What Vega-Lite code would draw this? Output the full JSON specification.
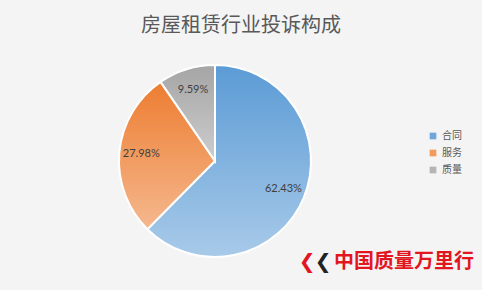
{
  "$schema": "https://vega.github.io/schema/vega-lite/v6.json",
  "width": 482,
  "height": 290,
  "autosize": {"type": "none"},
  "padding": 0,
  "background": "#f4f4f4",
  "config": {
    "view": {"stroke": "#cfcfcf", "strokeWidth": 1, "fill": null},
    "font": "Noto Sans CJK SC"
  },
  "title": {
    "text": "房屋租赁行业投诉构成",
    "fontSize": 20,
    "fontWeight": "normal",
    "color": "#595959",
    "font": "Noto Sans CJK SC",
    "anchor": "middle",
    "offset": -36
  },
  "data": {
    "values": [
      {"类别": "合同", "占比": 0.6243, "序": 1},
      {"类别": "服务", "占比": 0.2798, "序": 2},
      {"类别": "质量", "占比": 0.0959, "序": 3}
    ]
  },
  "layer": [
    {
      "mark": {"type": "arc", "x": 215, "y": 161, "radius": 96},
      "encoding": {
        "theta": {"field": "占比", "type": "quantitative", "stack": true},
        "order": {"field": "序", "type": "quantitative"},
        "color": {
          "field": "类别",
          "type": "nominal",
          "sort": ["合同", "服务", "质量"],
          "scale": {"range": ["#6fa6db", "#f19a5e", "#b4b4b4"]},
          "legend": {
            "title": null,
            "orient": "none",
            "legendX": 428,
            "legendY": 131,
            "symbolType": "square",
            "symbolSize": 45,
            "symbolStrokeWidth": 0,
            "labelFontSize": 10,
            "labelColor": "#595959",
            "labelFont": "Noto Sans CJK SC",
            "rowPadding": 7
          }
        }
      }
    },
    {
      "mark": {"type": "arc", "x": 215, "y": 161, "radius": 96, "stroke": "white", "strokeWidth": 2},
      "encoding": {
        "theta": {"field": "占比", "type": "quantitative", "stack": true},
        "order": {"field": "序", "type": "quantitative"},
        "fill": {
          "condition": [
            {
              "test": "datum['类别'] === '合同'",
              "value": {"gradient": "linear", "x1": 0, "y1": 0, "x2": 0, "y2": 1,
                "stops": [{"offset": 0, "color": "#5b9bd5"}, {"offset": 1, "color": "#a8cae9"}]}
            },
            {
              "test": "datum['类别'] === '服务'",
              "value": {"gradient": "linear", "x1": 0, "y1": 0, "x2": 0, "y2": 1,
                "stops": [{"offset": 0, "color": "#ed7d31"}, {"offset": 1, "color": "#f5b88e"}]}
            }
          ],
          "value": {"gradient": "linear", "x1": 0, "y1": 0, "x2": 0, "y2": 1,
            "stops": [{"offset": 0, "color": "#a5a5a5"}, {"offset": 1, "color": "#cdcdcd"}]}
        }
      }
    },
    {
      "mark": {"type": "text", "x": 215, "y": 161, "radius": 74, "fontSize": 11, "font": "Lato", "color": "#404040"},
      "encoding": {
        "theta": {"field": "占比", "type": "quantitative", "stack": true},
        "order": {"field": "序", "type": "quantitative"},
        "text": {"field": "占比", "type": "quantitative", "format": ".2%"}
      }
    },
    {
      "data": {"values": [{"标识": "❮", "色": "#e3161f", "dx": -8}, {"标识": "❮", "色": "#222222", "dx": 8}]},
      "mark": {"type": "text", "x": 315, "y": 262, "fontSize": 20, "fontWeight": "bold", "font": "DejaVu Sans"},
      "encoding": {
        "text": {"field": "标识", "type": "nominal"},
        "color": {"field": "色", "type": "nominal", "scale": null},
        "xOffset": {"field": "dx", "type": "quantitative", "scale": null}
      }
    },
    {
      "data": {"values": [{"品牌": "中国质量万里行"}]},
      "mark": {"type": "text", "x": 404, "y": 262, "fontSize": 20, "fontWeight": "bold", "font": "Noto Sans CJK SC", "color": "#e3161f"},
      "encoding": {
        "text": {"field": "品牌", "type": "nominal"}
      }
    }
  ]
}
